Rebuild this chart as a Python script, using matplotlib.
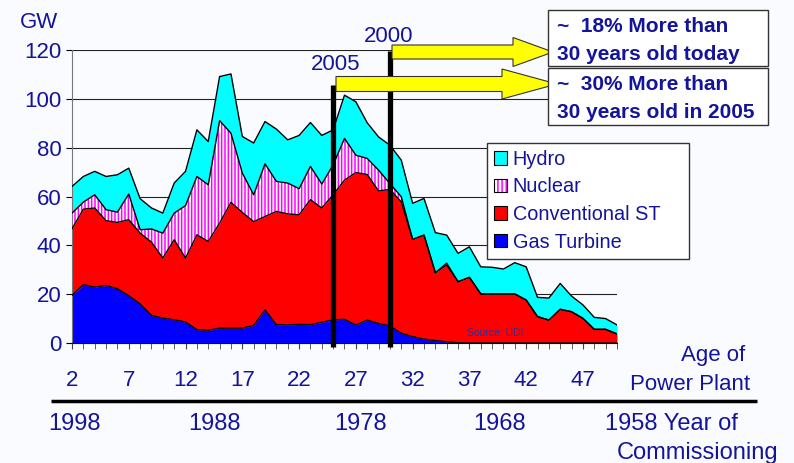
import matplotlib
matplotlib.use('Agg')
import matplotlib.pyplot as plt
from matplotlib.patches import Patch, Rectangle, Polygon
from matplotlib.legend_handler import HandlerTuple
import numpy as np

plt.rcParams['font.family'] = ['Liberation Sans', 'DejaVu Sans']
plt.rcParams['hatch.color'] = 'magenta'
plt.rcParams['hatch.linewidth'] = 1.1

#%% data (GW by age of plant)
age = np.arange(2, 51)
gas = [19.5, 23.9, 22.9, 23.6, 22.2, 19.4, 16.0, 11.3, 10.2, 9.5, 8.6, 5.5, 5.2, 6.1, 6.1,
       6.1, 7.2, 13.6, 7.5, 7.4, 7.6, 7.5, 8.5, 9.5, 9.7, 7.4, 9.4, 8.0, 7.0, 4.0, 2.6,
       1.6, 1.0, 0.5, 0.1, 0, 0, 0, 0, 0, 0, 0, 0, 0, 0, 0, 0, 0, 0]
conventional = [27.3, 30.9, 32.4, 26.5, 27.2, 31.1, 29.0, 30.0, 24.6, 32.8, 26.2, 38.8, 36.4,
                43.0, 51.5, 47.4, 42.5, 38.2, 46.4, 45.5, 44.9, 51.2, 46.8, 51.2, 57.0, 62.4,
                59.6, 54.3, 55.9, 53.8, 39.8, 42.6, 27.8, 31.4, 25.0, 26.9, 20.1, 20.1, 20.1,
                20.1, 17.6, 10.8, 9.4, 13.8, 12.8, 10.1, 5.6, 5.6, 3.7]
nuclear = [6.4, 2.9, 5.4, 4.5, 4.2, 10.5, 1.4, 5.4, 10.2, 10.9, 21.5, 23.9, 23.2, 42.0, 28.3,
           16.1, 11.0, 21.6, 12.3, 12.6, 10.7, 13.6, 9.8, 12.3, 17.1, 7.1, 6.6, 8.5, 2.4, 2.1,
           0, 0, 0, 0.8, 0, 0, 0, 0, 0, 0, 0, 0, 0, 0, 0, 0, 0, 0, 0]
hydro = [10.9, 10.5, 9.6, 13.6, 15.3, 10.6, 12.7, 8.6, 8.2, 12.3, 14.0, 19.1, 17.7, 18.0, 24.3,
         15.0, 21.2, 17.3, 21.4, 17.7, 21.8, 18.0, 19.9, 14.3, 17.7, 21.9, 14.6, 13.6, 15.7,
         15.0, 14.8, 15.0, 16.4, 11.5, 11.6, 12.5, 11.1, 10.9, 10.2, 12.8, 13.6, 7.9, 9.0,
         10.6, 6.4, 5.5, 4.9, 4.4, 3.7]
age_ticks = [2, 7, 12, 17, 22, 27, 32, 37, 42, 47]
years = ['1998', '1988', '1978', '1968']

navy = '#14149a'
bg = '#fafbff'

#%%
fig = plt.figure(figsize=(7.94, 4.63), dpi=100, facecolor=bg)
W, H = 794, 463
ax = fig.add_axes([72 / W, 1 - 343 / H, 545 / W, 293 / H])
ax.set_facecolor(bg)

g = np.array(gas)
c = g + np.array(conventional)
n = c + np.array(nuclear)
h = n + np.array(hydro)

ax.fill_between(age, 0, g, color='#0000ff', lw=0, zorder=2)
ax.fill_between(age, g, c, color='#ff0000', lw=0, zorder=2)
ax.fill_between(age, c, n, facecolor='white', edgecolor='magenta', hatch='|||||', lw=0, zorder=2)
ax.fill_between(age, n, h, color='#00ffff', lw=0, zorder=2)
for top in (g, c, n, h):
    ax.plot(age, top, color='black', lw=1, zorder=3)

ax.set_xlim(2, 50)
ax.set_ylim(0, 120)
ax.set_yticks(range(0, 121, 20))
ax.set_xticks(age_ticks)
ax.set_xticks(age, minor=True)
ax.yaxis.grid(True, color='#222222', lw=0.8)
ax.set_axisbelow(True)
for s in ('top', 'right'):
    ax.spines[s].set_visible(False)
ax.spines['left'].set_color('#777777')
ax.tick_params(axis='y', length=4.5, labelsize=16, labelcolor=navy, pad=3)
ax.tick_params(axis='x', which='both', length=4.5, color='#444444', labelsize=16,
               labelcolor=navy, pad=15)

# 2005 / 2000 markers
ax.plot([25, 25], [-1.8, 105.5], color='black', lw=3.8, solid_capstyle='butt',
        clip_on=False, zorder=4)
ax.plot([30, 30], [-1.8, 119.5], color='black', lw=3.8, solid_capstyle='butt',
        clip_on=False, zorder=4)

#%% overlay in pixel units for annotations
ov = fig.add_axes([0, 0, 1, 1], zorder=4)
ov.set_xlim(0, W)
ov.set_ylim(H, 0)
ov.axis('off')
ov.patch.set_alpha(0)
ov.text(467, 333, 'Source: UDI', fontsize=7.5, color='#3a2a8c', va='center')

def block_arrow(x0, xh, x1, yc, bh, hh):
    pts = [(x0, yc - bh), (xh, yc - bh), (xh, yc - hh), (x1, yc), (xh, yc + hh),
           (xh, yc + bh), (x0, yc + bh)]
    ov.add_patch(Polygon(pts, closed=True, facecolor='#ffff00', edgecolor='#333333', lw=0.8))

block_arrow(392, 513, 553, 52, 7, 14.5)
block_arrow(336, 502, 557, 84, 7.5, 15)

for y0, y1, l1, l2 in [(10, 66, '~  18% More than', '30 years old today'),
                       (68, 125, '~  30% More than', '30 years old in 2005')]:
    ov.add_patch(Rectangle((548, y0), 220, y1 - y0, facecolor='white', edgecolor='#333333', lw=1))
    ov.text(557, y0 + 17, l1, fontsize=15, fontweight='bold', color=navy, va='center')
    ov.text(557, y0 + 44, l2, fontsize=15, fontweight='bold', color=navy, va='center')

ov.text(389, 36, '2000', fontsize=16, color=navy, ha='center', va='center')
ov.text(336, 64, '2005', fontsize=16, color=navy, ha='center', va='center')
ov.text(20, 23, 'GW', fontsize=16, color=navy, va='center')

ov.text(745, 355, 'Age of', fontsize=16, color=navy, ha='right', va='center')
ov.text(750, 385, 'Power Plant', fontsize=16, color=navy, ha='right', va='center')
ov.plot([51, 757], [401, 401], color='black', lw=2.5, solid_capstyle='butt')
for xc, t in zip([75, 215, 361, 500], years):
    ov.text(xc, 424, t, fontsize=17, color=navy, ha='center', va='center')
ov.text(605, 424, '1958 Year of', fontsize=17, color=navy, va='center')
ov.text(617, 453, 'Commissioning', fontsize=17, color=navy, va='center')

#%% legend
box = Patch(facecolor='none', edgecolor='black', lw=0.8)
handles = [(Patch(facecolor='#00ffff'), box),
           (Patch(facecolor='white', edgecolor='magenta', hatch='||||', lw=0), box),
           (Patch(facecolor='#ff0000'), box),
           (Patch(facecolor='#0000ff'), box)]
labels = ['Hydro', 'Nuclear', 'Conventional ST', 'Gas Turbine']
leg = fig.legend(handles, labels, handler_map={tuple: HandlerTuple(ndivide=1)},
                 loc='upper left', mode='expand',
                 bbox_to_anchor=(487 / W, 1 - 259 / H, 202 / W, 116 / H),
                 fontsize=14.3, handlelength=0.65, handleheight=0.65, handletextpad=0.3,
                 labelspacing=0.43, borderpad=0.35, borderaxespad=0, fancybox=False,
                 framealpha=1, edgecolor='#333333', labelcolor=navy)
leg.get_frame().set_linewidth(1)

fig.savefig('out.png', dpi=100, facecolor=bg)
